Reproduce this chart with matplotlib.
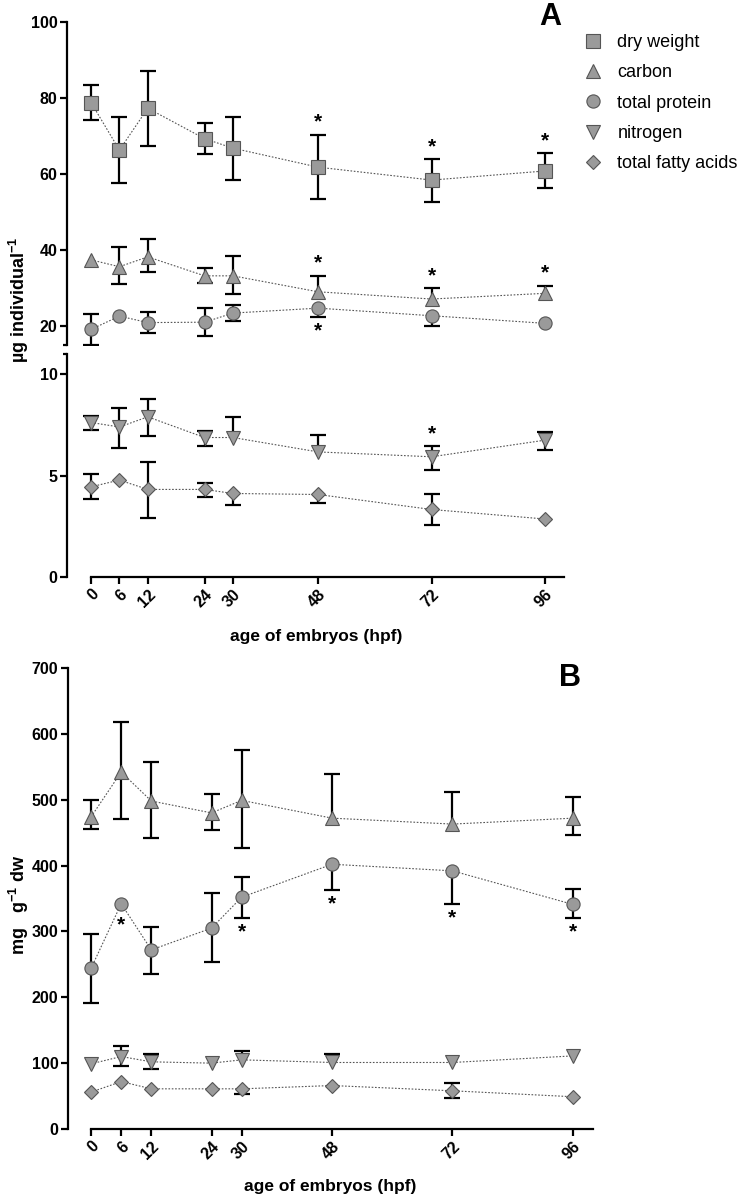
import matplotlib.pyplot as plt
import numpy as np

plt.rcParams['font.family'] = ['Liberation Sans', 'DejaVu Sans']
plt.rcParams['font.weight'] = 'bold'
plt.rcParams['mathtext.fontset'] = 'custom'
plt.rcParams['mathtext.rm'] = 'Liberation Sans'
plt.rcParams['mathtext.bf'] = 'Liberation Sans:bold'

hpf = [0, 6, 12, 24, 30, 48, 72, 96]
series_names = ['dry weight', 'carbon', 'total protein', 'nitrogen', 'total fatty acids']

# panel A (ug individual-1): means, upper and lower error-bar ends (None = hidden)
dw_a = [78.8, 66.3, 77.3, 69.3, 66.8, 61.8, 58.4, 60.8]
dw_a_hi = [83.4, 75.0, 87.1, 73.3, 75.1, 70.3, 63.9, 65.4]
dw_a_lo = [74.2, 57.6, 67.4, 65.3, 58.4, 53.4, 52.7, 56.2]

c_a = [37.4, 35.6, 38.2, 33.2, 33.2, 29.0, 27.1, 28.6]
c_a_hi = [None, 40.9, 43.0, 35.2, 38.3, 33.2, 29.9, 30.6]
c_a_lo = [None, 31.1, 34.1, 31.4, 28.3, None, None, None]

p_a = [19.1, 22.6, 20.9, 21.0, 23.4, 24.7, 22.7, 20.7]
p_a_hi = [23.1, None, 23.6, 24.7, 25.4, None, None, None]
p_a_lo = [15.0, None, 18.2, 17.4, 21.3, 22.3, 20.0, None]

n_a = [7.62, 7.40, 7.90, 6.88, 6.88, 6.17, 5.93, 6.75]
n_a_hi = [7.95, 8.34, 8.80, 7.19, 7.87, 6.98, 6.45, 7.16]
n_a_lo = [7.24, 6.34, 6.95, 6.45, None, None, 5.27, 6.26]

f_a = [4.45, 4.78, 4.32, 4.32, 4.12, 4.07, 3.33, 2.86]
f_a_hi = [5.07, None, 5.68, 4.65, None, None, 4.09, None]
f_a_lo = [3.87, None, 2.92, 3.96, 3.55, 3.63, 2.56, None]

# panel B (mg g-1 dw)
c_b = [474, 542, 498, 480, 499, 472, 463, 472]
c_b_hi = [499, 618, 557, 508, 576, 539, 512, 504]
c_b_lo = [455, 471, 442, 454, 426, None, None, 446]

p_b = [244, 342, 272, 305, 352, 402, 392, 341]
p_b_hi = [296, None, 307, 359, 382, None, None, 364]
p_b_lo = [192, None, 236, 253, 321, 363, 341, 321]

n_b = [99, 110, 102, 100, 105, 101, 101, 111]
n_b_hi = [None, 126, 114, None, 118, 114, None, None]
n_b_lo = [None, 96, 91, None, None, None, None, None]

f_b = [56, 72, 61, 61, 61, 66, 58, 49]
f_b_hi = [None, None, None, None, None, None, 70, None]
f_b_lo = [None, None, None, None, 53, None, 47, None]

# significant time points (*)
dw_a_sig = [48, 72, 96]
c_a_sig = [48, 72, 96]
p_a_sig = [48]
n_a_sig = [72]
p_b_sig = [6, 30, 48, 72, 96]

FACE = '#9a9a9a'
EDGE = '#555555'


def draw(ax, y, hi, lo, marker, ms, label):
    ya = np.array(y, dtype=float)
    hia = np.array(hi, dtype=float)
    loa = np.array(lo, dtype=float)
    x = np.array(hpf, dtype=float)
    ax.plot(x, ya, ls=(0, (1.5, 1.5)), color='#555555', lw=0.8, zorder=1)
    # error bars: stems and caps only where the end is visible
    top = np.where(np.isnan(hia), ya, hia)
    bot = np.where(np.isnan(loa), ya, loa)
    ax.vlines(x, bot, top, colors='black', lw=1.6, zorder=2)
    for ends in (hia, loa):
        m = ~np.isnan(ends)
        ax.plot(x[m], ends[m], ls='none', marker='_', ms=11, mew=1.6, color='black', zorder=2)
    h, = ax.plot(x, ya, ls='none', marker=marker, ms=ms, mfc=FACE, mec=EDGE,
                 mew=0.8, zorder=3, label=label, clip_on=False)
    return h


def stars(ax, y, hi, lo, sig, where):
    for t in sig:
        i = hpf.index(t)
        if where == 'above':
            b = hi[i]
            base, off = (y[i], 13) if b is None else (b, 9)
        else:
            b = lo[i]
            base, off = (y[i], -15) if b is None else (b, -10)
        ax.annotate('*', (t, base), xytext=(0, off), textcoords='offset points',
                    ha='center', va='center', fontsize=15, fontweight='bold')


def style(ax):
    for s in ['top', 'right']:
        ax.spines[s].set_visible(False)
    for s in ['left', 'bottom']:
        ax.spines[s].set_linewidth(1.6)
    ax.tick_params(width=1.6, length=5, labelsize=11.5, pad=2)


fig = plt.figure(figsize=(7.39, 11.99), dpi=100)
W, H = 739, 1199

ax_up = fig.add_axes([67.4 / W, 1 - 345 / H, (564 - 67.4) / W, (345 - 22) / H])
ax_lo = fig.add_axes([67.4 / W, 1 - 577 / H, (564 - 67.4) / W, (577 - 354) / H], sharex=ax_up)
ax_b = fig.add_axes([68 / W, 1 - 1129 / H, (593 - 68) / W, (1129 - 668) / H])

handles = []
handles.append(draw(ax_up, dw_a, dw_a_hi, dw_a_lo, 's', 10, series_names[0]))
handles.append(draw(ax_up, c_a, c_a_hi, c_a_lo, '^', 10, series_names[1]))
handles.append(draw(ax_up, p_a, p_a_hi, p_a_lo, 'o', 9.5, series_names[2]))
handles.append(draw(ax_lo, n_a, n_a_hi, n_a_lo, 'v', 10, series_names[3]))
handles.append(draw(ax_lo, f_a, f_a_hi, f_a_lo, 'D', 7.5, series_names[4]))

stars(ax_up, dw_a, dw_a_hi, dw_a_lo, dw_a_sig, 'above')
stars(ax_up, c_a, c_a_hi, c_a_lo, c_a_sig, 'above')
stars(ax_up, p_a, p_a_hi, p_a_lo, p_a_sig, 'below')
stars(ax_lo, n_a, n_a_hi, n_a_lo, n_a_sig, 'above')

draw(ax_b, c_b, c_b_hi, c_b_lo, '^', 10, series_names[1])
draw(ax_b, p_b, p_b_hi, p_b_lo, 'o', 9.5, series_names[2])
draw(ax_b, n_b, n_b_hi, n_b_lo, 'v', 10, series_names[3])
draw(ax_b, f_b, f_b_hi, f_b_lo, 'D', 7.5, series_names[4])
stars(ax_b, p_b, p_b_hi, p_b_lo, p_b_sig, 'below')

for ax in [ax_up, ax_lo, ax_b]:
    style(ax)

# upper segment of broken axis
ax_up.set_xlim(-5, 100)
ax_up.set_ylim(15, 100)
ax_up.set_yticks([20, 40, 60, 80, 100])
ax_up.set_yticks([15], minor=True)
ax_up.tick_params(which='minor', length=3, width=1.6)
ax_up.spines['bottom'].set_visible(False)
ax_up.tick_params(axis='x', bottom=False, labelbottom=False)

# lower segment
ax_lo.set_ylim(0, 11)
ax_lo.set_yticks([0, 5, 10])
ax_lo.set_yticks([11], minor=True)
ax_lo.tick_params(which='minor', length=3, width=1.6)
ax_lo.spines['bottom'].set_bounds(0, 100)

ax_b.set_xlim(-4.6, 100)
ax_b.set_ylim(0, 700)
ax_b.set_yticks(range(0, 701, 100))
ax_b.spines['bottom'].set_bounds(0, 100)

for ax in [ax_lo, ax_b]:
    ax.set_xticks(hpf)
    ax.set_xticklabels([str(h) for h in hpf], rotation=45, ha='right', va='top',
                       rotation_mode='anchor')
    ax.set_xlabel('age of embryos (hpf)', fontsize=12.5, fontweight='bold')
    ax.xaxis.label.set_va('center')

ax_lo.xaxis.set_label_coords(0.5, -60 / 223)
ax_b.xaxis.set_label_coords(0.5, -58 / 461)

fig.text(19 / W, 1 - 300 / H, r'µg individual$^{-1}$', rotation=90, ha='center', va='center',
         fontsize=13, fontweight='bold')
fig.text(19 / W, 1 - 905 / H, r'mg   g$^{-1}$ dw', rotation=90, ha='center', va='center',
         fontsize=13, fontweight='bold')

fig.text(550 / W, 1 - 17 / H, 'A', fontsize=22, fontweight='bold', ha='center', va='center')
fig.text(570 / W, 1 - 678 / H, 'B', fontsize=22, fontweight='bold', ha='center', va='center')

fig.legend(handles=handles, labels=series_names, loc='upper left',
           bbox_to_anchor=(583 / W, 1 - 34 / H), frameon=False, numpoints=1,
           handlelength=1.1, handletextpad=0.8, labelspacing=0.74, borderpad=0,
           borderaxespad=0, prop={'size': 13, 'weight': 'normal'})

fig.savefig('out.png', dpi=100)
